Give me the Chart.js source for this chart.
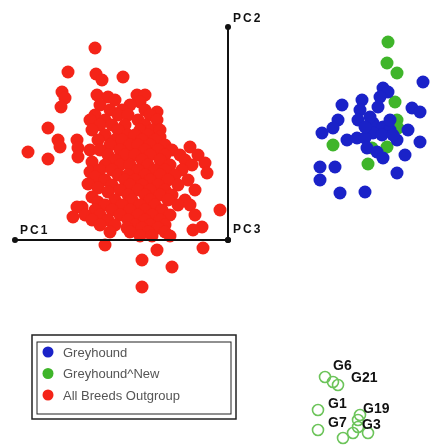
<!DOCTYPE html>
<html lang="en">
<head>
    <meta charset="UTF-8">
    <script src="https://cdn.jsdelivr.net/npm/chart.js"></script>
    <title>Greyhound PCA</title>
    <style>
        html, body { margin: 0; padding: 0; background: #fff; }
        #wrap { width: 443px; height: 446px; }
    </style>
</head>
<body>
<div id="wrap"><canvas id="pca"></canvas></div>
<script>
// values (picture units, y grows downward)
const outgroup = [
    [95,48],[68,72],[96,74],[102,80],[123,77],[62,92],[65,98],[61,107],
    [97,95],[108,97],[137,95],[145,95],[140,102],[115,100],
    [100,105],[130,105],[110,110],[122,110],[145,110],[157,112],
    [95,115],[118,115],[128,115],[150,115],[90,120],[105,120],[138,120],[157,120],
    [100,125],[112,125],[125,125],[145,125],[48,128],
    [92,130],[118,130],[140,130],[152,130],[160,130],
    [105,135],[128,135],[135,135],[148,135],[160,137],
    [58,140],[77,140],[98,140],[115,140],[122,140],[142,140],[155,140],
    [78,148],[110,145],[130,145],[138,145],[150,145],[165,145],[190,147],[60,147],
    [90,150],[100,150],[120,150],[145,150],[158,150],[172,150],[28,152],
    [78,157],[108,155],[125,155],[135,155],[150,155],[165,155],[180,155],[198,155],[48,159],
    [92,162],[115,160],[142,160],[160,160],[185,160],[205,163],
    [105,165],[120,165],[130,165],[148,165],[170,165],[192,165],
    [90,172],[100,170],[112,170],[138,170],[155,170],[165,170],[182,170],[207,173],
    [95,177],[118,175],[128,175],[145,175],[160,175],[175,175],
    [88,184],[105,180],[125,180],[135,180],[150,180],[168,180],[188,180],
    [98,188],[112,185],[130,185],[142,185],[158,185],[178,185],
    [108,192],[120,190],[138,190],[150,190],[165,190],[195,190],
    [92,197],[128,195],[145,195],[160,195],[172,195],
    [98,202],[115,200],[132,200],[150,200],[168,200],[185,200],
    [82,207],[105,205],[122,205],[140,205],[155,205],[178,205],[190,205],[77,207],
    [95,210],[112,210],[130,210],[145,210],[162,210],[220,210],
    [85,215],[100,215],[120,215],[138,215],[152,215],[170,215],[195,215],[73,217],
    [92,220],[108,220],[128,220],[145,220],[160,220],
    [100,225],[115,225],[135,225],[150,225],[165,225],[202,227],
    [127,228],[142,228],[158,228],[193,230],
    [110,232],[130,232],[148,232],[165,232],[140,236],[152,236],[170,236],
    [105,245],[203,248],[157,250],[142,260],[172,267],[142,287]
];
const greyhound = [
    [423,82],[342,105],[362,100],[383,88],[388,92],[380,97],[412,108],[420,112],
    [338,120],[333,128],[322,133],[360,110],[358,120],[373,123],[383,127],[390,130],
    [373,133],[347,140],[357,138],[365,138],[408,130],[397,140],[420,142],[367,148],
    [377,152],[405,155],[383,158],[320,167],[335,167],[320,180],[397,173],[340,193],
    [365,192],[370,117],[378,107],[390,120],[365,127],[382,135],[393,135]
];
const greyhoundNew = [
    [388,42],[387,63],[397,73],[395,102],[397,120],[398,128],[333,145],[372,148],
    [387,147],[368,164]
];
const newOpen = [
    [325,377],[333,382],[338,385],[318,410],[318,430],[343,438],[353,433],
    [358,420],[360,415],[358,427],[368,433]
];
const sampleLabels = ["G6", "G21", "G1", "G19", "G7", "G3"];
const samplePos = [[333,370],[351,382],[328,408],[363,413],[328,427],[362,429]];
const axisNames = ["PC1", "PC2", "PC3"];
const axisNamePos = [[20,234],[233,22],[233,233]];
const pc1Line = [[15,240],[228,240]];
const pc2Line = [[228,240],[228,27]];
const legendNames = ["Greyhound", "Greyhound^New", "All Breeds Outgroup"];
const legendColors = ["#1a22c8", "#3fb52a", "#f42418"];

const pts = arr => arr.map(p => ({ x: p[0], y: p[1] }));

const overlay = {
    id: "overlay",
    afterDatasetsDraw(chart) {
        const c = chart.ctx, xs = chart.scales.x, ys = chart.scales.y;
        c.save();
        c.fillStyle = "#111";
        c.textBaseline = "alphabetic";
        c.font = "bold 12px 'Liberation Sans', Arial";
        axisNames.forEach((t, i) => {
            c.save();
            c.translate(xs.getPixelForValue(axisNamePos[i][0]), ys.getPixelForValue(axisNamePos[i][1]));
            c.letterSpacing = "2px";
            c.fillText(t, 0, 0);
            c.restore();
        });
        c.font = "bold 14px 'Liberation Sans', Arial";
        sampleLabels.forEach((t, i) => {
            c.fillText(t, xs.getPixelForValue(samplePos[i][0]), ys.getPixelForValue(samplePos[i][1]));
        });
        // legend box
        c.strokeStyle = "#222";
        c.lineWidth = 1.5;
        c.strokeRect(32, 335, 204, 84);
        c.lineWidth = 1;
        c.strokeRect(37, 342, 194, 72);
        c.font = "13px 'Liberation Sans', Arial";
        legendNames.forEach((t, i) => {
            const y = 352 + i * 21.5;
            c.fillStyle = legendColors[i];
            c.beginPath();
            c.arc(48, y, 5.5, 0, Math.PI * 2);
            c.fill();
            c.fillStyle = "#555";
            c.textBaseline = "middle";
            c.fillText(t, 63, y + 1);
        });
        c.restore();
    }
};

new Chart(document.getElementById("pca"), {
    type: "scatter",
    data: {
        datasets: [
            { data: pts(pc1Line), type: "line", borderColor: "#111", borderWidth: 2,
              pointRadius: 3, pointBackgroundColor: "#111", pointBorderWidth: 0 },
            { data: pts(pc2Line), type: "line", borderColor: "#111", borderWidth: 2,
              pointRadius: 3, pointBackgroundColor: "#111", pointBorderWidth: 0 },
            { data: pts(outgroup), backgroundColor: "#f42418", pointRadius: 6.5, borderWidth: 0 },
            { data: pts(greyhound), backgroundColor: "#1a22c8", pointRadius: 6.5, borderWidth: 0 },
            { data: pts(greyhoundNew), backgroundColor: "#3fb52a", pointRadius: 6.5, borderWidth: 0 },
            { data: pts(newOpen), backgroundColor: "rgba(0,0,0,0)", borderColor: "#6cc45a",
              pointRadius: 5.5, borderWidth: 1.6 }
        ]
    },
    options: {
        responsive: true,
        maintainAspectRatio: false,
        animation: false,
        layout: { padding: 0, autoPadding: false },
        clip: false,
        scales: {
            x: { type: "linear", min: 0, max: 443, display: false },
            y: { type: "linear", min: 0, max: 446, reverse: true, display: false }
        },
        plugins: { legend: { display: false }, tooltip: { enabled: false } }
    },
    plugins: [overlay]
});
</script>
</body>
</html>
